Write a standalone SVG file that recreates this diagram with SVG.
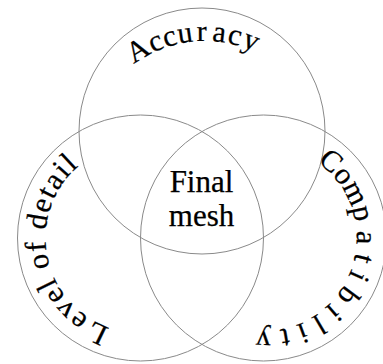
<svg xmlns="http://www.w3.org/2000/svg" width="383" height="364" viewBox="0 0 383 364">
<style>
.ring{fill:none;stroke:#8a8a8a;stroke-width:1}
.lbl{font-family:"Liberation Serif","Times New Roman",serif;font-size:30px;fill:#000;stroke:#000;stroke-width:0.25px}
.ctr{font-family:"Liberation Serif","Times New Roman",serif;font-size:31px;fill:#000;stroke:#000;stroke-width:0.25px;text-anchor:middle}
</style>
<defs>
<path id="accPath" d="M 101.1 101 A 120 120 0 0 1 308.9 101"/>
<path id="lodPath" d="M 140.5 333 A 95 95 0 1 1 188 155.7"/>
<path id="compPath" d="M 263.5 145 A 93 93 0 1 1 217 318.5"/>
</defs>
<rect width="383" height="364" fill="#ffffff"/>
<g id="accuracy">
<circle class="ring" cx="202" cy="131" r="123"/>
<text class="lbl"><textPath href="#accPath" startOffset="49.4"><tspan style="letter-spacing:0.5px">Acc</tspan><tspan style="letter-spacing:3px">u</tspan><tspan style="letter-spacing:5px">r</tspan><tspan style="letter-spacing:1.5px">acy</tspan></textPath></text>
</g>
<g id="level-of-detail">
<circle class="ring" cx="140.5" cy="238" r="123"/>
<text class="lbl"><textPath href="#lodPath" startOffset="31.2"><tspan style="letter-spacing:5px">L</tspan><tspan style="letter-spacing:1.5px">evel of detail</tspan></textPath></text>
</g>
<g id="compatibility">
<circle class="ring" cx="263.5" cy="238" r="123"/>
<text class="lbl"><textPath href="#compPath" startOffset="57"><tspan style="letter-spacing:0px">Com</tspan><tspan style="letter-spacing:8.4px">patibility</tspan></textPath></text>
</g>
<g id="final-mesh">
<text class="ctr" x="201.5" y="191.5">Final</text>
<text class="ctr" x="201.5" y="226">mesh</text>
</g>
<g id="connectors"></g>
</svg>
